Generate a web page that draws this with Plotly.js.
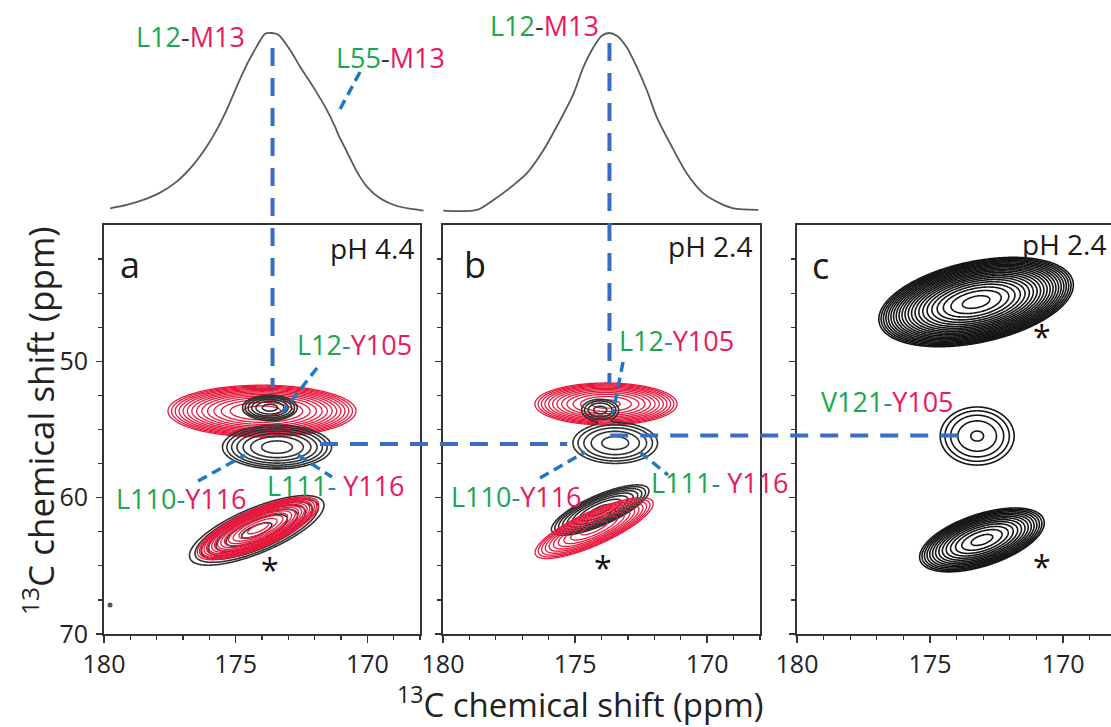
<!DOCTYPE html>
<html><head><meta charset="utf-8">
<script src="https://cdn.plot.ly/plotly-3.0.1.min.js"></script>
<style>html,body{margin:0;padding:0;background:#fff;overflow:hidden}</style>
</head><body><div id="chart" style="width:1111px;height:727px"></div>
<script>
// ---------------- data ----------------
// 1D projections (13C ppm, normalised intensity)
const specA_ppm = [179.77,179.14,178.51,177.87,177.24,176.61,176.10,175.72,175.34,174.96,174.58,174.20,173.88,173.63,173.38,172.94,172.56,172.05,171.54,171.23,171.10,170.78,170.40,170.02,169.52,168.88,168.25,167.87];
const specA_int = [0.015,0.034,0.062,0.103,0.165,0.259,0.362,0.456,0.568,0.699,0.822,0.925,0.996,1.000,0.990,0.906,0.812,0.696,0.568,0.474,0.428,0.334,0.221,0.137,0.071,0.028,0.010,0.002];
const specB_ppm = [179.99,178.72,178.09,177.34,176.83,176.20,175.57,175.06,174.69,174.31,173.99,173.71,173.42,173.04,172.66,172.28,171.91,171.40,170.77,170.14,169.51,169.00,168.06];
const specB_int = [0.002,0.006,0.062,0.145,0.211,0.341,0.509,0.658,0.807,0.919,0.985,1.000,0.985,0.919,0.807,0.677,0.528,0.379,0.211,0.099,0.043,0.015,0.006];

// 2D cross peaks: centre (ppm), outer-contour half axes (ppm), tilt (deg), relative amplitude,
// number of contour rings and size of innermost ring
const peakPanel = ['a','a','a','a','a','b','b','b','b','b','c','c','c'];
const peakGroup = ['aR1','aK2','aK2','aKS','aRS','bR1','bK2','bK2','bKS','bRS','cTop','cV121','cBot'];
const peakColor = ['red','black','black','black','red','red','black','black','black','red','black','black','black'];
const peakX     = [174.00,173.43,173.70,174.20,174.15,173.83,173.48,174.05,174.05,174.28,173.27,173.23,173.05];
const peakY     = [53.65,56.29,53.40,62.40,62.25,53.13,55.99,53.57,60.91,62.23,45.65,55.48,63.10];
const peakA     = [3.57,2.07,1.14,3.35,3.05,2.69,1.60,0.80,2.45,3.00,4.10,1.39,2.90];
const peakB     = [1.90,1.60,1.00,1.35,1.15,1.54,1.50,0.90,0.90,1.00,2.70,2.13,1.60];
const peakAngle = [0,0,0,45,45,0,0,0,45,45,37,0,45];
const peakAmp   = [1,1,0.6,1,1,1,1,0.5,1,1,1,1,1];
const peakRings = [14,7,7,7,15,12,5,5,8,10,22,5,14];
const peakInner = [0.04,0.08,0.08,0.05,0.03,0.04,0.10,0.10,0.05,0.05,0.02,0.03,0.03];
// drawing order of peak groups
const groupOrder = ['aR1','aKS','aRS','aK2','bR1','bK2','bKS','bRS','cTop','cV121','cBot'];

// small noise peak in panel a
const noiseX = [179.77];
const noiseY = [67.88];

// guide lines (ppm)
const guideVert = [{panel:'a', ppm:173.60}, {panel:'b', ppm:173.70}];
const guideHorz = [{ppm:56.07, from:['a',171.80], to:['b',175.30]},
                   {ppm:55.44, from:['b',173.67], to:['c',173.50]}];

// tick labels
const xTickVals = [180,175,170];
const xTickText = ['180','175','170'];
const yTickVals = [50,60,70];
const yTickText = ['50','60','70'];
const yMinorVals = [42.5,45,47.5,52.5,55,57.5,62.5,65,67.5];

// ---------------- geometry ----------------
const W = 1111, H = 727;
const PX = x => x / W, PY = y => 1 - y / H;
const panels = {
  a: {px:[104,420], r:[180,168], xa:'x',  ya:'y'},
  b: {px:[443,760], r:[180,168], xa:'x2', ya:'y2'},
  c: {px:[797,1111], r:[180,168.2], xa:'x3', ya:'y3'}
};
const yPx = [225,634], yR = [40,70];
const ppmXtoPaper = (p, v) => { const P = panels[p]; const f = (v - P.r[0])/(P.r[1]-P.r[0]); return (P.px[0] + f*(P.px[1]-P.px[0]))/W; };
const ppmYtoPaper = v => PY(yPx[0] + (v - yR[0])/(yR[1]-yR[0])*(yPx[1]-yPx[0]));

const COL = {red:'#e8183c', black:'#303030'};
const GREEN = '#19a84e', PINK = '#e8195f', BLUE = '#3b6cc4', PBLUE = '#1f78c4';
const FONT = 'Open Sans, Liberation Sans, sans-serif';

// ---------------- contour traces ----------------
const K = 3;
const traces = [];
groupOrder.forEach(g => {
  const idx = peakGroup.map((v,i) => v===g ? i : -1).filter(i => i >= 0);
  let x0=Infinity,x1=-Infinity,y0=Infinity,y1=-Infinity;
  idx.forEach(i => { const r = Math.max(peakA[i],peakB[i])*1.25;
    x0=Math.min(x0,peakX[i]-r); x1=Math.max(x1,peakX[i]+r);
    y0=Math.min(y0,peakY[i]-r); y1=Math.max(y1,peakY[i]+r); });
  const n = 200, xs=[], ys=[], z=[];
  for (let k=0;k<n;k++){ xs.push(x0+(x1-x0)*k/(n-1)); ys.push(y0+(y1-y0)*k/(n-1)); }
  for (let j=0;j<n;j++){ const row=[];
    for (let k=0;k<n;k++){ let s=1e-12;
      idx.forEach(i => { const t = peakAngle[i]*Math.PI/180; const dx = xs[k]-peakX[i], dy = ys[j]-peakY[i];
        const u = dx*Math.cos(t)+dy*Math.sin(t), v = -dx*Math.sin(t)+dy*Math.cos(t);
        const q = (u/peakA[i])**2 + (v/peakB[i])**2; s += peakAmp[i]*Math.exp(-K*q); });
      row.push(Math.log(s)/K); }
    z.push(row); }
  const m = idx[0], p = panels[peakPanel[m]];
  const col = peakPanel[m]==='c' ? '#151515' : COL[peakColor[m]];
  const rings = peakRings[m], inner = peakInner[m];
  traces.push({type:'contour', x:xs, y:ys, z:z, xaxis:p.xa, yaxis:p.ya,
    autocontour:false, contours:{coloring:'lines', start:-1, end:-inner+1e-9, size:(1-inner)/(rings-1), showlabels:false},
    colorscale:[[0,col],[1,col]], showscale:false,
    line:{width: peakColor[m]==='red' ? 1.3 : 1.6, smoothing:1}, hoverinfo:'skip'});
});
traces.push({type:'scatter', mode:'markers', x:noiseX, y:noiseY, xaxis:'x', yaxis:'y',
  marker:{size:5, color:'#555'}, hoverinfo:'skip', showlegend:false});
traces.push({type:'scatter', mode:'lines', x:specA_ppm, y:specA_int, xaxis:'x4', yaxis:'y4',
  line:{color:'#595959', width:1.8, shape:'spline', smoothing:0.8}, hoverinfo:'skip', showlegend:false});
traces.push({type:'scatter', mode:'lines', x:specB_ppm, y:specB_int, xaxis:'x5', yaxis:'y5',
  line:{color:'#595959', width:1.8, shape:'spline', smoothing:0.8}, hoverinfo:'skip', showlegend:false});

// ---------------- axes ----------------
const tickFont = {family:FONT, size:25, color:'#222'};
function xAxis(p, mirror){ const P=panels[p]; return {
  domain:[P.px[0]/W, P.px[1]/W], range:P.r, anchor:P.ya, showline:true, linecolor:'#333', linewidth:2,
  mirror:mirror, ticks:'outside', ticklen:7, tickwidth:1.5, tickcolor:'#333', tickmode:'array',
  tickvals:xTickVals, ticktext:xTickText, tickfont:tickFont, ticklabelstandoff:0,
  minor:{tickmode:'linear', tick0:170, dtick:1, ticks:'outside', ticklen:4, tickwidth:1.2, tickcolor:'#333'},
  showgrid:false, zeroline:false, fixedrange:true}; }
function yAxis(p, labels, mirror){ const P=panels[p]; return {
  domain:[PY(yPx[1]), PY(yPx[0])], range:[yR[1], yR[0]], anchor:P.xa, showline:true, linecolor:'#333', linewidth:2,
  mirror:mirror, ticks:'outside', ticklen:6, tickwidth:1.5, tickcolor:'#333', tickmode:'array',
  tickvals:yTickVals, ticktext:yTickText, showticklabels:labels, tickfont:tickFont, ticklabelstandoff:3,
  minor:{tickmode:'array', tickvals:yMinorVals, ticks:'outside', ticklen:4, tickwidth:1.2, tickcolor:'#333'},
  showgrid:false, zeroline:false, fixedrange:true}; }
const hidden = {showline:false, showticklabels:false, ticks:'', showgrid:false, zeroline:false, fixedrange:true};
const specY = Object.assign({domain:[PY(225), PY(30)], range:[-0.0787, 1.0169]}, hidden);

// ---------------- shapes ----------------
const shapes = [];
const vSpan = {a:[48,388], b:[43,383]};
guideVert.forEach(g => shapes.push({type:'line', xref:panels[g.panel].xa, yref:'paper',
  x0:g.ppm, x1:g.ppm, y0:PY(vSpan[g.panel][0]), y1:PY(vSpan[g.panel][1]),
  line:{color:BLUE, width:4, dash:'18px,12px'}}));
guideHorz.forEach(g => shapes.push({type:'line', xref:'paper', yref:'paper',
  x0:ppmXtoPaper(g.from[0], g.from[1]), x1:ppmXtoPaper(g.to[0], g.to[1]),
  y0:ppmYtoPaper(g.ppm), y1:ppmYtoPaper(g.ppm), line:{color:BLUE, width:4, dash:'18px,12px'}}));
const pointers = [[360,72,338,113],[317,368,282,413],[623,362,613,413],[198,481,245,455],
                  [298,455,332,477],[540,478,585,452],[640,452,668,475]];
pointers.forEach(s => shapes.push({type:'line', xref:'paper', yref:'paper',
  x0:PX(s[0]), y0:PY(s[1]), x1:PX(s[2]), y1:PY(s[3]), line:{color:PBLUE, width:3.5, dash:'10px,6px'}}));

// ---------------- annotations ----------------
const pair = (g, p, sep) => `<span style="color:${GREEN}">${g}</span>${sep}<span style="color:${PINK}">${p}</span>`;
const HY = `<span style="color:#2a8aa8">-</span>`;
const ann = [];
function A(text, x, y, size, opts){ ann.push(Object.assign({text, xref:'paper', yref:'paper', x:PX(x), y:PY(y),
  xanchor:'center', yanchor:'middle', showarrow:false, font:{family:FONT, size, color:'#1a1a1a'}}, opts||{})); }
A(pair('L12','M13','<span style="color:#333">-</span>'), 190, 37, 27);
A(pair('L55','M13','<span style="color:#333">-</span>'), 390, 57, 27);
A(pair('L12','M13','<span style="color:#333">-</span>'), 544, 26, 27);
A('a', 130, 264, 36); A('b', 475, 264, 36); A('c', 820, 266, 36);
A('pH 4.4', 416, 248, 28, {xanchor:'right'});
A('pH 2.4', 754, 246, 28, {xanchor:'right'});
A('pH 2.4', 1020, 244, 28, {xanchor:'left'});
A(pair('L12','Y105',HY), 354, 344, 27);
A(pair('L110','Y116',HY), 181, 498, 27);
A(pair('L111','Y116','<span style="color:#2a8aa8">- </span>'), 336, 486, 27);
A(pair('L12','Y105',HY), 677, 340, 27);
A(pair('L110','Y116',HY), 516, 497, 27);
A(pair('L111','Y116','<span style="color:#2a8aa8">- </span>'), 720, 483, 27);
A(pair('V121','Y105',HY), 887, 401, 27);
[[270,560],[603,558],[1042,327],[1042,557]].forEach(s => A('*', s[0], s[1]+9, 32, {font:{family:FONT, size:32, color:'#111'}}));
A('<sup>13</sup>C chemical shift (ppm)', 580, 702, 33, {font:{family:FONT, size:33, color:'#222'}});
A('<sup>13</sup>C chemical shift (ppm)', 38, 421, 35, {textangle:-90, font:{family:FONT, size:35, color:'#222'}});

const layout = {
  width:W, height:H, margin:{l:0,r:0,t:0,b:0}, paper_bgcolor:'#fff', plot_bgcolor:'rgba(0,0,0,0)',
  showlegend:false, font:{family:FONT},
  xaxis:xAxis('a', true), yaxis:yAxis('a', true, true),
  xaxis2:xAxis('b', true), yaxis2:yAxis('b', false, true),
  xaxis3:xAxis('c', true), yaxis3:yAxis('c', false, false),
  xaxis4:Object.assign({domain:[104/W, 424/W], range:[180,167.85], anchor:'y4'}, hidden),
  yaxis4:Object.assign({anchor:'x4'}, specY),
  xaxis5:Object.assign({domain:[443/W, 760/W], range:[180,168], anchor:'y5'}, hidden),
  yaxis5:Object.assign({anchor:'x5'}, specY),
  shapes, annotations:ann
};
Plotly.newPlot('chart', traces, layout, {displayModeBar:false, staticPlot:true});
</script></body></html>
